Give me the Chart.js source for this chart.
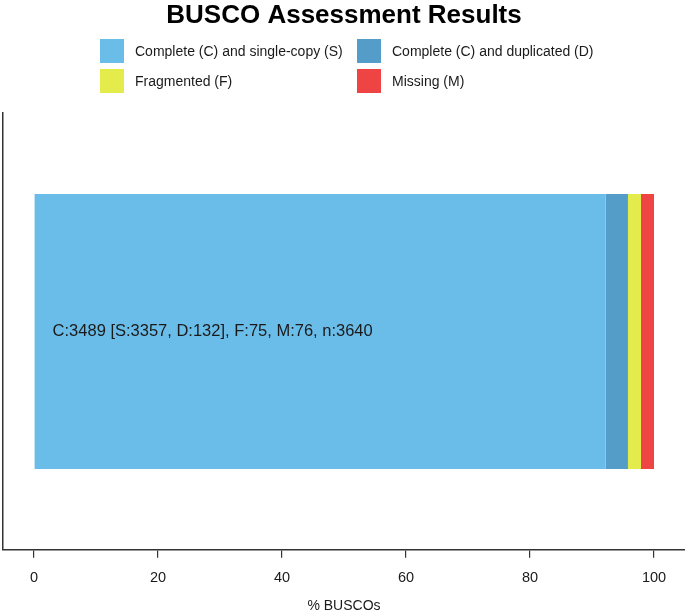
<!DOCTYPE html>
<html>
<head>
<meta charset="utf-8">
<title>BUSCO Assessment Results</title>
<script src="https://cdn.jsdelivr.net/npm/chart.js@4/dist/chart.umd.min.js"></script>
<style>
  html, body { margin: 0; padding: 0; background: #fff; }
  #wrap { width: 685px; height: 615px; position: relative; }
</style>
</head>
<body>
<div id="wrap"><canvas id="buscoChart"></canvas></div>
<script>
// BUSCO counts and percentages
const categories = [""];
const seriesNames = [
  "Complete (C) and single-copy (S)",
  "Complete (C) and duplicated (D)",
  "Fragmented (F)",
  "Missing (M)",
];
const singleCopy = [92.2];
const duplicated = [3.6];
const fragmented = [2.1];
const missing = [2.1];
const seriesColors = ["#6bbde9", "#559dc9", "#e3ec4b", "#ef4444"];
const xTicks = [0, 20, 40, 60, 80, 100];
const summaryText = "C:3489 [S:3357, D:132], F:75, M:76, n:3640";
const summaryAt = 3;

const FONT = "'Liberation Sans', Arial, sans-serif";

// Two-column legend drawn under the title
const gridLegend = {
  id: "gridLegend",
  afterDraw(chart) {
    const ctx = chart.ctx;
    const cols = [100, 357];
    const rows = [39, 69];
    ctx.save();
    ctx.font = "14px " + FONT;
    ctx.textBaseline = "middle";
    ctx.textAlign = "left";
    chart.data.datasets.forEach((ds, i) => {
      const x = cols[i % 2];
      const y = rows[Math.floor(i / 2)];
      ctx.fillStyle = ds.backgroundColor;
      ctx.fillRect(x, y, 24, 24);
      ctx.fillStyle = "#1a1a1a";
      ctx.fillText(ds.label, x + 35, y + 13);
    });
    ctx.restore();
  },
};

// Summary string written over the bar
const barText = {
  id: "barText",
  afterDatasetsDraw(chart) {
    const ctx = chart.ctx;
    const x = chart.scales.x.getPixelForValue(summaryAt);
    const y = chart.scales.y.getPixelForValue(0);
    ctx.save();
    ctx.font = "16.5px " + FONT;
    ctx.fillStyle = "#1a1a1a";
    ctx.textBaseline = "middle";
    ctx.textAlign = "left";
    ctx.fillText(summaryText, x, y);
    ctx.restore();
  },
};

const makeSet = (i, data) => ({
  label: seriesNames[i],
  data: data,
  backgroundColor: seriesColors[i],
  borderWidth: 0,
  categoryPercentage: 1,
  barPercentage: 0.63,
});

const ctx = document.getElementById("buscoChart").getContext("2d");
new Chart(ctx, {
  type: "bar",
  data: {
    labels: categories,
    datasets: [
      makeSet(0, singleCopy),
      makeSet(1, duplicated),
      makeSet(2, fragmented),
      makeSet(3, missing),
    ],
  },
  options: {
    indexAxis: "y",
    responsive: true,
    maintainAspectRatio: false,
    animation: false,
    layout: { padding: { left: 3, right: 0, top: 0, bottom: 0 } },
    plugins: {
      legend: { display: false },
      tooltip: { enabled: false },
      title: {
        display: true,
        text: "BUSCO Assessment Results",
        color: "#000",
        font: { family: FONT, size: 26, weight: "bold" },
        padding: { top: 0, bottom: 82 },
      },
    },
    scales: {
      x: {
        stacked: true,
        min: -5,
        max: 105,
        afterBuildTicks: (scale) => {
          scale.ticks = xTicks.map((v) => ({ value: v }));
        },
        grid: {
          drawOnChartArea: false,
          drawTicks: true,
          tickLength: 8,
          color: "#333",
          lineWidth: 1.2,
        },
        border: { display: true, color: "#333", width: 1.5 },
        ticks: {
          color: "#1a1a1a",
          font: { family: FONT, size: 14.5 },
          padding: 11,
          maxRotation: 0,
        },
        title: {
          display: true,
          text: "% BUSCOs",
          color: "#1a1a1a",
          font: { family: FONT, size: 14 },
          padding: { top: 1, bottom: 0 },
        },
      },
      y: {
        stacked: true,
        grid: { display: false },
        border: { display: true, color: "#333", width: 1.5 },
        ticks: { display: false },
        afterFit: (scale) => {
          scale.width = 0;
        },
      },
    },
  },
  plugins: [gridLegend, barText],
});
</script>
</body>
</html>
